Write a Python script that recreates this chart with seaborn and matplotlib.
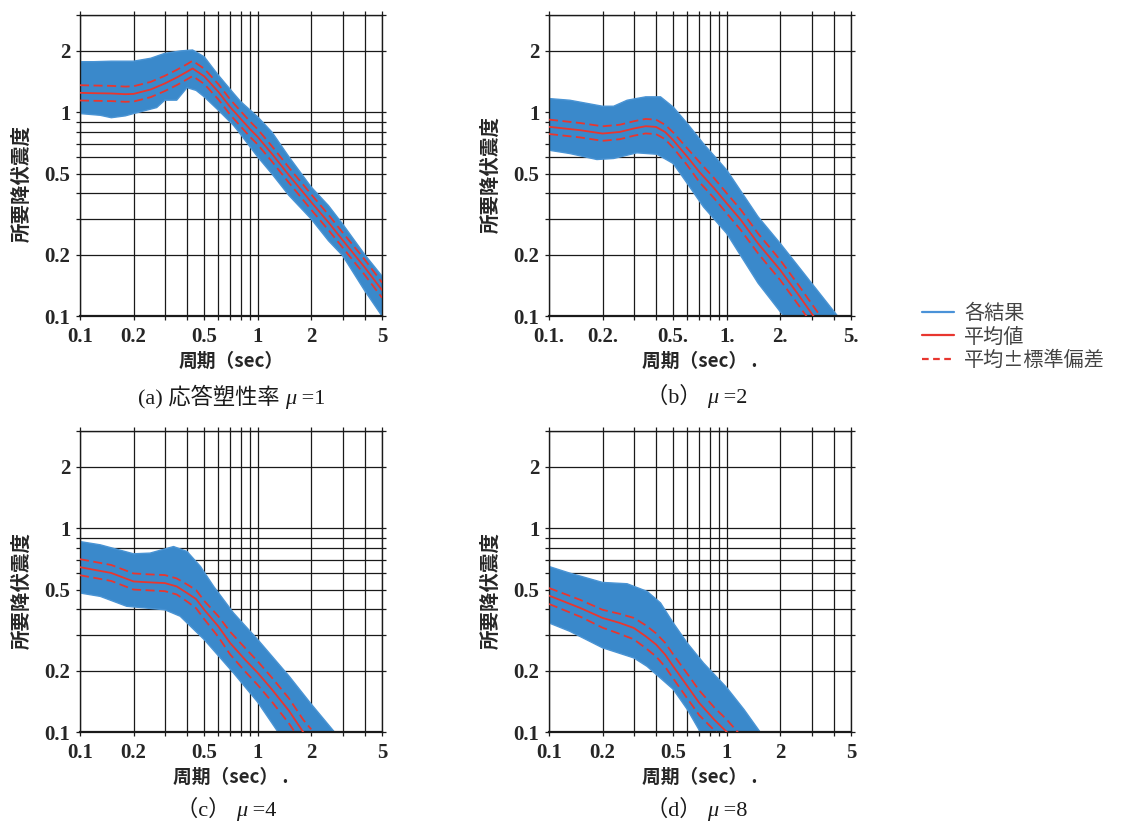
import matplotlib
matplotlib.use("Agg")
import matplotlib.pyplot as plt
from matplotlib.ticker import FixedLocator, FixedFormatter, NullFormatter
from matplotlib.lines import Line2D
from matplotlib.offsetbox import TextArea, HPacker, AnnotationBbox
import seaborn as sns

# ---- values (period in sec, required yield coefficient) ----
# (a) mu = 1
T_a = [0.1, 0.12, 0.15, 0.18, 0.2, 0.25, 0.3, 0.35, 0.4, 0.43, 0.5, 0.6, 0.7, 0.8, 0.9, 1.0, 1.2, 1.5, 2.0, 2.5, 3.0, 4.0, 5.0]
mean_a = [1.245, 1.24, 1.236, 1.226, 1.23, 1.293, 1.384, 1.48, 1.58, 1.64, 1.50, 1.26, 1.06, 0.93, 0.83, 0.756, 0.626, 0.49, 0.362, 0.288, 0.236, 0.173, 0.134]
hi_a = [1.357, 1.352, 1.347, 1.336, 1.341, 1.409, 1.509, 1.613, 1.722, 1.788, 1.635, 1.373, 1.155, 1.014, 0.905, 0.824, 0.682, 0.534, 0.395, 0.314, 0.257, 0.189, 0.146]
lo_a = [1.142, 1.138, 1.134, 1.125, 1.128, 1.186, 1.27, 1.358, 1.45, 1.505, 1.376, 1.156, 0.972, 0.853, 0.761, 0.694, 0.574, 0.45, 0.332, 0.264, 0.217, 0.159, 0.123]
Ttop_a = [0.1, 0.12, 0.15, 0.2, 0.25, 0.3, 0.37, 0.43, 0.5, 0.6, 0.73, 0.8, 1.0, 1.2, 1.5, 2.0, 2.5, 3.0, 4.0, 5.0]
top_a = [1.77, 1.77, 1.78, 1.78, 1.84, 1.945, 2.0, 2.02, 1.87, 1.52, 1.24, 1.13, 0.948, 0.80, 0.603, 0.429, 0.348, 0.283, 0.20, 0.157]
Tbot_a = [0.1, 0.13, 0.15, 0.18, 0.2, 0.27, 0.3, 0.35, 0.4, 0.45, 0.5, 0.6, 0.73, 0.8, 1.0, 1.2, 1.5, 2.0, 2.5, 3.0, 4.0, 5.0]
bot_a = [0.985, 0.966, 0.94, 0.96, 0.985, 1.054, 1.146, 1.146, 1.32, 1.28, 1.19, 1.023, 0.863, 0.78, 0.603, 0.499, 0.39, 0.299, 0.234, 0.198, 0.133, 0.1]

# (b) mu = 2
T_b = [0.1, 0.15, 0.2, 0.25, 0.3, 0.35, 0.4, 0.45, 0.5, 0.6, 0.7, 0.85, 1.0, 1.2, 1.5, 2.0, 2.5, 3.0, 3.5]
mean_b = [0.848, 0.816, 0.786, 0.80, 0.832, 0.854, 0.847, 0.80, 0.729, 0.604, 0.51, 0.423, 0.357, 0.296, 0.227, 0.168, 0.129, 0.103, 0.085]
hi_b = [0.92, 0.885, 0.853, 0.868, 0.903, 0.927, 0.919, 0.868, 0.795, 0.664, 0.571, 0.474, 0.40, 0.332, 0.254, 0.188, 0.144, 0.115, 0.095]
lo_b = [0.782, 0.752, 0.724, 0.737, 0.767, 0.787, 0.781, 0.737, 0.669, 0.549, 0.455, 0.378, 0.319, 0.264, 0.203, 0.15, 0.115, 0.092, 0.076]
Ttop_b = [0.1, 0.131, 0.2, 0.231, 0.275, 0.35, 0.424, 0.5, 0.6, 0.74, 1.0, 1.5, 2.0, 3.0, 4.2]
top_b = [1.167, 1.145, 1.07, 1.07, 1.145, 1.19, 1.19, 1.06, 0.88, 0.70, 0.52, 0.307, 0.227, 0.145, 0.1]
Tbot_b = [0.1, 0.131, 0.186, 0.231, 0.312, 0.405, 0.5, 0.6, 0.74, 1.0, 1.5, 2.0, 2.2]
bot_b = [0.651, 0.627, 0.586, 0.593, 0.632, 0.622, 0.56, 0.447, 0.343, 0.254, 0.145, 0.105, 0.095]

# (c) mu = 4
T_c = [0.1, 0.15, 0.2, 0.25, 0.3, 0.35, 0.4, 0.45, 0.5, 0.6, 0.7, 0.85, 1.0, 1.2, 1.5, 1.8, 2.0]
mean_c = [0.644, 0.603, 0.548, 0.542, 0.538, 0.518, 0.481, 0.449, 0.398, 0.33, 0.273, 0.226, 0.195, 0.162, 0.127, 0.1, 0.09]
hi_c = [0.705, 0.66, 0.60, 0.593, 0.589, 0.567, 0.53, 0.497, 0.44, 0.37, 0.31, 0.258, 0.222, 0.185, 0.146, 0.115, 0.103]
lo_c = [0.588, 0.551, 0.50, 0.495, 0.491, 0.473, 0.437, 0.405, 0.358, 0.293, 0.24, 0.198, 0.17, 0.141, 0.11, 0.087, 0.078]
Ttop_c = [0.1, 0.13, 0.2, 0.248, 0.336, 0.4, 0.476, 0.565, 0.73, 1.0, 1.5, 2.0, 2.7]
top_c = [0.86, 0.829, 0.749, 0.755, 0.813, 0.769, 0.649, 0.518, 0.384, 0.284, 0.188, 0.137, 0.1]
Tbot_c = [0.1, 0.13, 0.183, 0.3, 0.366, 0.5, 0.73, 1.0, 1.3]
bot_c = [0.481, 0.463, 0.414, 0.398, 0.37, 0.284, 0.195, 0.14, 0.1]

# (d) mu = 8
T_d = [0.1, 0.15, 0.2, 0.25, 0.3, 0.35, 0.4, 0.45, 0.5, 0.6, 0.7, 0.85, 1.0, 1.2]
mean_d = [0.467, 0.406, 0.363, 0.343, 0.324, 0.295, 0.269, 0.24, 0.21, 0.168, 0.139, 0.115, 0.1, 0.083]
hi_d = [0.509, 0.445, 0.398, 0.38, 0.363, 0.334, 0.305, 0.274, 0.24, 0.193, 0.16, 0.132, 0.115, 0.096]
lo_d = [0.425, 0.368, 0.325, 0.303, 0.285, 0.258, 0.235, 0.209, 0.183, 0.146, 0.121, 0.102, 0.087, 0.072]
Ttop_d = [0.1, 0.131, 0.2, 0.275, 0.356, 0.424, 0.5, 0.6, 0.74, 1.0, 1.25, 1.54]
top_d = [0.649, 0.602, 0.542, 0.534, 0.49, 0.43, 0.343, 0.273, 0.218, 0.165, 0.129, 0.1]
Tbot_d = [0.1, 0.131, 0.2, 0.3, 0.356, 0.5, 0.6, 0.71]
bot_d = [0.343, 0.312, 0.259, 0.231, 0.21, 0.162, 0.129, 0.1]

x_major = [0.1, 0.2, 0.5, 1, 2, 5]
x_minor = [0.3, 0.4, 0.6, 0.7, 0.8, 0.9, 3, 4]
y_major = [0.1, 0.2, 0.5, 1, 2]
y_minor = [0.3, 0.4, 0.6, 0.7, 0.8, 0.9, 3]
x_labels = ["0.1", "0.2", "0.5", "1", "2", "5"]
x_labels_b = ["0.1.", "0.2.", "0.5.", "1.", "2.", "5."]
y_labels = ["0.1", "0.2", "0.5", "1", "2"]

# caption pieces: text before mu, mu, text after mu
title_heads = ["(a) 応答塑性率 ", "（b） ", "（c） ", "（d） "]
title_tails = [" =1", " =2", " =4", " =8"]
legend_labels = ["各結果", "平均値", "平均±標準偏差"]

sns.set_style("white")
plt.rcParams['font.family'] = ['Liberation Serif', 'Noto Sans CJK JP']
JP = ['Noto Sans CJK JP', 'DejaVu Sans']
SERIF_JP = ['Liberation Serif', 'Noto Sans CJK JP']
BLUE = '#3a89cb'
RED = '#e8362f'
W, H = 1122, 823

fig = plt.figure(figsize=(W / 100, H / 100), dpi=100)


def draw_panel(left, top, T, mean, hi, lo, Ttop, top_env, Tbot, bot_env,
               xlabels, xlab, ylab_y):
    ax = fig.add_axes([left / W, 1 - (top + 301) / H, 302 / W, 301 / H])
    ax.set_xscale('log')
    ax.set_yscale('log')

    # band of individual results
    px = list(Ttop) + list(Tbot)[::-1]
    py = list(top_env) + list(bot_env)[::-1]
    ax.fill(px, py, color=BLUE, lw=0, zorder=2)
    ax.plot(Ttop, top_env, color='#4a94d4', lw=1.0, zorder=2)
    ax.plot(Tbot, bot_env, color='#4a94d4', lw=1.0, zorder=2)

    sns.lineplot(x=T, y=mean, ax=ax, color=RED, lw=1.3, zorder=4)
    sns.lineplot(x=T, y=hi, ax=ax, color=RED, lw=1.3, linestyle=(0, (5, 2.5)), zorder=4)
    sns.lineplot(x=T, y=lo, ax=ax, color=RED, lw=1.3, linestyle=(0, (5, 2.5)), zorder=4)

    ax.set_xlim(0.1, 5)
    ax.set_ylim(0.1, 3)
    ax.xaxis.set_major_locator(FixedLocator(x_major))
    ax.xaxis.set_major_formatter(FixedFormatter(xlabels))
    ax.xaxis.set_minor_locator(FixedLocator(x_minor))
    ax.xaxis.set_minor_formatter(NullFormatter())
    ax.yaxis.set_major_locator(FixedLocator(y_major))
    ax.yaxis.set_major_formatter(FixedFormatter(y_labels))
    ax.yaxis.set_minor_locator(FixedLocator(y_minor))
    ax.yaxis.set_minor_formatter(NullFormatter())

    ax.set_axisbelow(True)
    ax.grid(True, which='both', color='#1a1a1a', lw=0.9)
    for tick in ax.xaxis.get_minor_ticks():
        if tick.get_loc() in (0.3, 0.4, 3, 4):
            tick.gridline.set_color('#8a8a8a')
    for tick in ax.yaxis.get_minor_ticks():
        if tick.get_loc() == 0.3:
            tick.gridline.set_color('#8a8a8a')

    ax.tick_params(which='both', direction='out', length=3, width=0.9, color='#1a1a1a',
                   top=True, right=True, bottom=True, left=True)
    ax.tick_params(axis='x', which='major', labelsize=15, pad=5)
    ax.tick_params(axis='y', which='major', labelsize=15, pad=4)
    for lab in ax.get_xticklabels() + ax.get_yticklabels():
        lab.set_fontweight('bold')
    for s in ax.spines.values():
        s.set_color('#1a1a1a')
        s.set_linewidth(1.0)
    ax.spines['bottom'].set_linewidth(1.6)

    ax.set_xlabel(xlab, family=JP, fontsize=13.5, fontweight='bold')
    ax.set_ylabel("所要降伏震度", family=JP, fontsize=14, fontweight='bold')
    ax.xaxis.set_label_coords(0.5, -0.12)
    ax.yaxis.set_label_coords(-0.162, ylab_y)
    return ax


draw_panel(80, 15, T_a, mean_a, hi_a, lo_a, Ttop_a, top_a, Tbot_a, bot_a,
           x_labels, "周期（sec）", 0.44)
draw_panel(549, 15, T_b, mean_b, hi_b, lo_b, Ttop_b, top_b, Tbot_b, bot_b,
           x_labels_b, "周期（sec） .", 0.47)
draw_panel(80, 431, T_c, mean_c, hi_c, lo_c, Ttop_c, top_c, Tbot_c, bot_c,
           x_labels, "周期（sec） .", 0.47)
draw_panel(549, 431, T_d, mean_d, hi_d, lo_d, Ttop_d, top_d, Tbot_d, bot_d,
           x_labels, "周期（sec） .", 0.47)

# captions under each panel, with an italic mu
for (cx, cy), head, tail in zip([(232, 397), (697, 397), (226, 810), (697, 810)],
                                title_heads, title_tails):
    props = dict(fontsize=16, family=SERIF_JP, color='#1a1a1a')
    box = HPacker(children=[TextArea(head, textprops=props),
                            TextArea("μ", textprops=dict(props, style='italic')),
                            TextArea(tail, textprops=props)],
                  align='baseline', pad=0, sep=0)
    fig.add_artist(AnnotationBbox(box, (cx / W, 1 - cy / H), xycoords='figure fraction',
                                  frameon=False, box_alignment=(0.5, 0.5), pad=0))

handles = [Line2D([], [], color='#4a92d8', lw=1.6),
           Line2D([], [], color=RED, lw=1.6),
           Line2D([], [], color=RED, lw=1.6, linestyle=(0, (3, 2)))]
fig.legend(handles, legend_labels, loc='center left',
           bbox_to_anchor=(904 / W, 1 - 337 / H), frameon=False,
           prop={'family': JP, 'size': 14.5}, labelcolor='#444444',
           handlelength=1.6, handletextpad=0.5, labelspacing=0.12)

fig.savefig("out.png", dpi=100)
